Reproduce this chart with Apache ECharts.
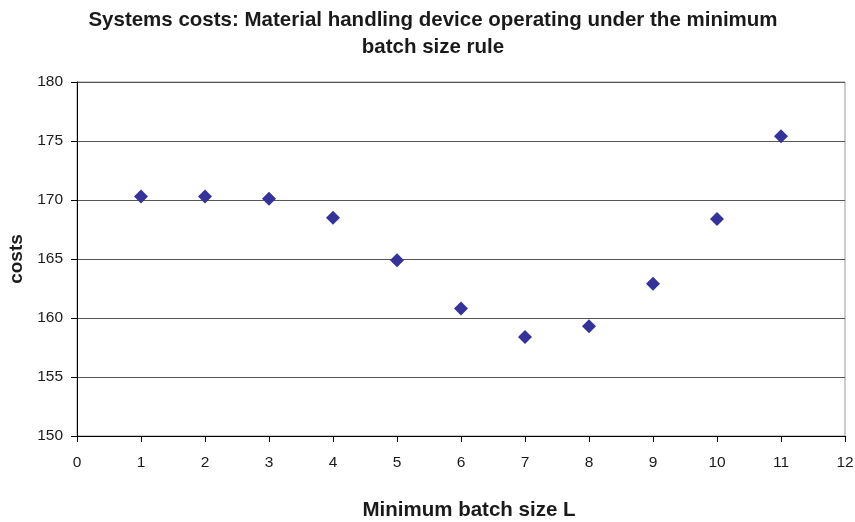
<!DOCTYPE html>
<html>
<head>
<meta charset="utf-8">
<script src="https://cdn.jsdelivr.net/npm/echarts@6/dist/echarts.min.js"></script>
<style>
  html, body { margin: 0; padding: 0; background: #fff; }
  #chart { width: 855px; height: 522px; }
</style>
</head>
<body>
<div id="chart"></div>
<script>
var batchSize = [1, 2, 3, 4, 5, 6, 7, 8, 9, 10, 11];
var costs = [170.3, 170.3, 170.1, 168.5, 164.9, 160.8, 158.4, 159.3, 162.9, 168.4, 175.4];

var points = batchSize.map(function (L, i) { return [L, costs[i]]; });

var myChart = echarts.init(document.getElementById('chart'));
var option = {
    animation: false,
    title: {
        text: 'Systems costs: Material handling device operating under the minimum\nbatch size rule',
        left: 428,
        textAlign: 'center',
        top: 2,
        textStyle: {
            fontFamily: 'Liberation Sans',
            fontWeight: 'bold',
            fontSize: 20.5,
            lineHeight: 27,
            color: '#1a1a1a'
        }
    },
    grid: {
        left: 77,
        right: 10,
        top: 82,
        bottom: 86,
        outerBoundsMode: 'none',
        containLabel: false,
        show: true,
        borderColor: '#999',
        borderWidth: 1
    },
    xAxis: {
        type: 'value',
        min: 0,
        max: 12,
        interval: 1,
        name: 'Minimum batch size L',
        nameLocation: 'middle',
        nameGap: 64,
        nameTextStyle: {
            fontFamily: 'Liberation Sans',
            fontWeight: 'bold',
            fontSize: 20.5,
            color: '#1a1a1a',
            padding: [0, 0, 0, 16]
        },
        axisLine: { show: true, onZero: false, lineStyle: { color: '#000' } },
        axisTick: { show: true, length: 6, lineStyle: { color: '#000' } },
        axisLabel: { fontFamily: 'Liberation Sans', fontSize: 15.5, color: '#1a1a1a', margin: 19 },
        splitLine: { show: false }
    },
    yAxis: {
        type: 'value',
        min: 150,
        max: 180,
        interval: 5,
        name: 'costs',
        nameLocation: 'middle',
        nameGap: 49,
        nameTextStyle: {
            fontFamily: 'Liberation Sans',
            fontWeight: 'bold',
            fontSize: 19,
            color: '#1a1a1a'
        },
        axisLine: { show: true, lineStyle: { color: '#000' } },
        axisTick: { show: true, length: 6, lineStyle: { color: '#000' } },
        axisLabel: { fontFamily: 'Liberation Sans', fontSize: 15.5, color: '#1a1a1a', margin: 14 },
        splitLine: { show: true, lineStyle: { color: '#555', width: 1 } }
    },
    series: [{
        type: 'scatter',
        data: points,
        symbol: 'diamond',
        symbolSize: [14, 14],
        itemStyle: { color: '#333399', opacity: 1 }
    }]
};
myChart.setOption(option);
</script>
</body>
</html>
